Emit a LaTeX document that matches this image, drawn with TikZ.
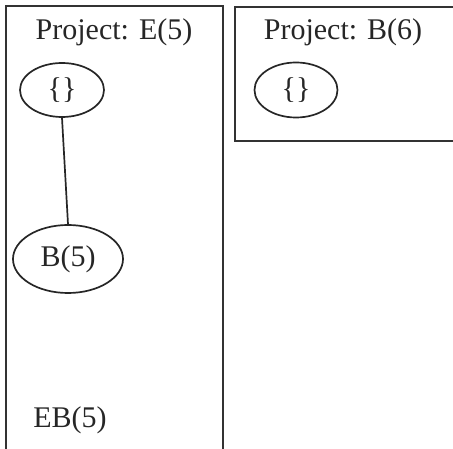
\documentclass[tikz,border=0pt]{standalone}
\usepackage{fontspec}
\setmainfont{Liberation Serif}
\usetikzlibrary{shapes.geometric}
\begin{document}
\begin{tikzpicture}[x=1pt,y=-1pt,
  frame/.style={draw=black!80,line width=2pt},
  label/.style={font=\fontsize{30}{32}\selectfont,inner sep=0pt,text=black!85},
  state/.style={draw=black!85,line width=1.7pt,ellipse,inner sep=0pt,
                font=\fontsize{30}{32}\selectfont,text=black!85},
  link/.style={draw=black!85,line width=1.7pt}]
  \useasboundingbox (0,0) rectangle (453,449);
  % project frames
  \draw[frame] (6,460) -- (6,6) -- (223,6) -- (223,460);
  \draw[frame] (460,141) -- (235,141) -- (235,7) -- (460,7);
  % frame titles
  \node[label] (tE) at (114,32) {Project: E(5)};
  \node[label] (tB) at (343,32) {Project: B(6)};
  % states
  \node[state,minimum width=84pt,minimum height=54pt] (e0) at (62,90) {\{\}};
  \node[state,minimum width=110pt,minimum height=68pt] (b5) at (68,259) {B(5)};
  \node[state,minimum width=83pt,minimum height=55pt] (b0) at (296,90) {\{\}};
  \node[label] (eb) at (70,420) {EB(5)};
  % transition
  \draw[link] (e0.south) -- (b5.north);
\end{tikzpicture}
\end{document}
